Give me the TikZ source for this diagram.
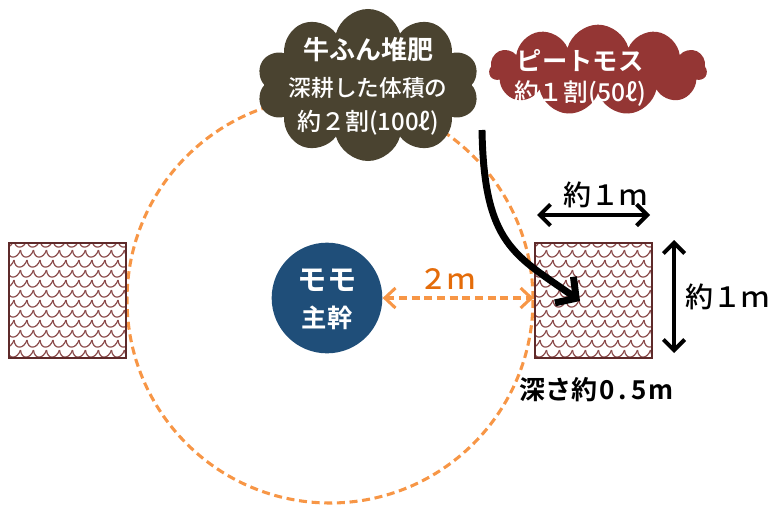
\documentclass[tikz,border=0pt]{standalone}
\usepackage{fontspec}
\newfontfamily\jp{Noto Sans CJK JP}
\newfontfamily\jpm{Noto Sans CJK JP}[UprightFont={* Medium},BoldFont={* Bold}]
\usetikzlibrary{shapes.symbols,arrows.meta}
\definecolor{cloudA}{HTML}{4A4330}
\definecolor{cloudB}{HTML}{943634}
\definecolor{momoblue}{HTML}{1F4E79}
\definecolor{orline}{HTML}{F79646}
\definecolor{ortext}{HTML}{E46C0A}
\definecolor{boxedge}{HTML}{5E2A2A}
\definecolor{patcol}{HTML}{8A4A4A}
\newcommand\myscales[4]{%
  \begin{scope}
    \clip (#1,#2) rectangle (#3,#4);
    \foreach \j in {0,...,12}{
      \foreach \i in {0,...,11}{
        \pgfmathsetmacro\xx{#1+\i*13+mod(\j,2)*6.5-8}
        \pgfmathsetmacro\yy{#2+\j*10-3}
        \draw[patcol,line width=0.9pt] (\xx,\yy) .. controls (\xx+1,\yy+10) and (\xx+10,\yy+9) .. (\xx+13,\yy);
      }}
  \end{scope}}
\tikzset{
  cloudshape/.style={cloud, cloud ignores aspect, draw=none, inner sep=0pt},
  wtxt/.style={text=white, inner sep=0pt},
  pbox/.style={draw=boxedge, line width=2.2pt, minimum width=87.75pt, minimum height=86.25pt, inner sep=0pt},
  dimarrow/.style={{Straight Barb[length=8pt,width=16pt]}-{Straight Barb[length=8pt,width=16pt]}, line width=3pt},
  lbl/.style={inner sep=0pt}
}
\begin{document}
\begin{tikzpicture}[x=0.75pt,y=-0.75pt,font=\jpm]
\useasboundingbox (0,0) rectangle (771,507);
% dashed circle
\draw[orline, line width=2.3pt, dash pattern=on 6pt off 3.5pt] (330,300) circle[radius=203];
% boxes
\myscales{9}{243}{126}{358}
\myscales{535}{243}{652}{358}
\node[pbox] (lbox) at (67.5,300.5) {};
\node[pbox] (rbox) at (593.5,300.5) {};
% momo
\node[circle, fill=momoblue, minimum size=83pt, inner sep=0pt] (momo) at (327,298) {};
\node[wtxt, font=\jpm\bfseries\fontsize{22}{24}\selectfont] (momo1) at (327,280) {モモ};
\node[wtxt, font=\jpm\bfseries\fontsize{19}{22}\selectfont] (momo2) at (327,318) {主幹};
% 2m arrow
\coordinate (ra) at (rbox.west |- momo.east);
\draw[orline, line width=2.3pt, dash pattern=on 6pt off 3.5pt, {Straight Barb[length=8pt,width=15pt]}-{Straight Barb[length=8pt,width=15pt]}] (momo.east) -- (ra);
\node[lbl, text=ortext, font=\jpm\fontsize{21}{24}\selectfont] (twom) at (447,279) {２ｍ};
% clouds
\node[cloudshape, cloud puffs=11, fill=cloudB, minimum width=163pt, minimum height=68pt] (cb) at (598,70) {};
\node[cloudshape, cloud puffs=10, fill=cloudA, minimum width=167pt, minimum height=114pt] (ca) at (368,85) {};
\node[wtxt, font=\jpm\bfseries\fontsize{19.5}{22}\selectfont] (ca1) at (368,50) {牛ふん堆肥};
\node[wtxt, font=\jpm\fontsize{17}{20}\selectfont] (ca2) at (368,88) {深耕した体積の};
\node[wtxt, font=\jpm\fontsize{18}{20}\selectfont] (ca3) at (368,123) {約２割(100ℓ)};
\node[wtxt, font=\jpm\bfseries\fontsize{19}{22}\selectfont] (cb1) at (580,61) {ピートモス};
\node[wtxt, font=\jpm\fontsize{18.5}{20}\selectfont] (cb2) at (580,94) {約１割(50ℓ)};
% curved arrow
\coordinate (cstart) at (482,130);
\coordinate (ctip) at (580,301);
\draw[line width=5.2pt, -{Straight Barb[length=11pt,width=24pt]}] (cstart) .. controls (484,245) and (515,255) .. (ctip);
% dimension arrows
\coordinate (h1) at (537,215);
\coordinate (h2) at (650,215);
\draw[dimarrow] (h1) -- (h2);
\node[lbl, font=\jpm\fontsize{21}{24}\selectfont] (hl) at (605,195) {約１ｍ};
\coordinate (v1) at (674,240);
\coordinate (v2) at (674,353);
\draw[dimarrow] (v1) -- (v2);
\node[lbl, font=\jpm\fontsize{21}{24}\selectfont] (vl) at (727,297) {約１ｍ};
\node[lbl, font=\jpm\bfseries\fontsize{19.5}{22}\selectfont] (depth) at (597,390) {深さ約\makebox[0.7em]{0}\makebox[0.55em]{.}\makebox[0.7em]{5}\makebox[1em]{m}};
\end{tikzpicture}
\end{document}
